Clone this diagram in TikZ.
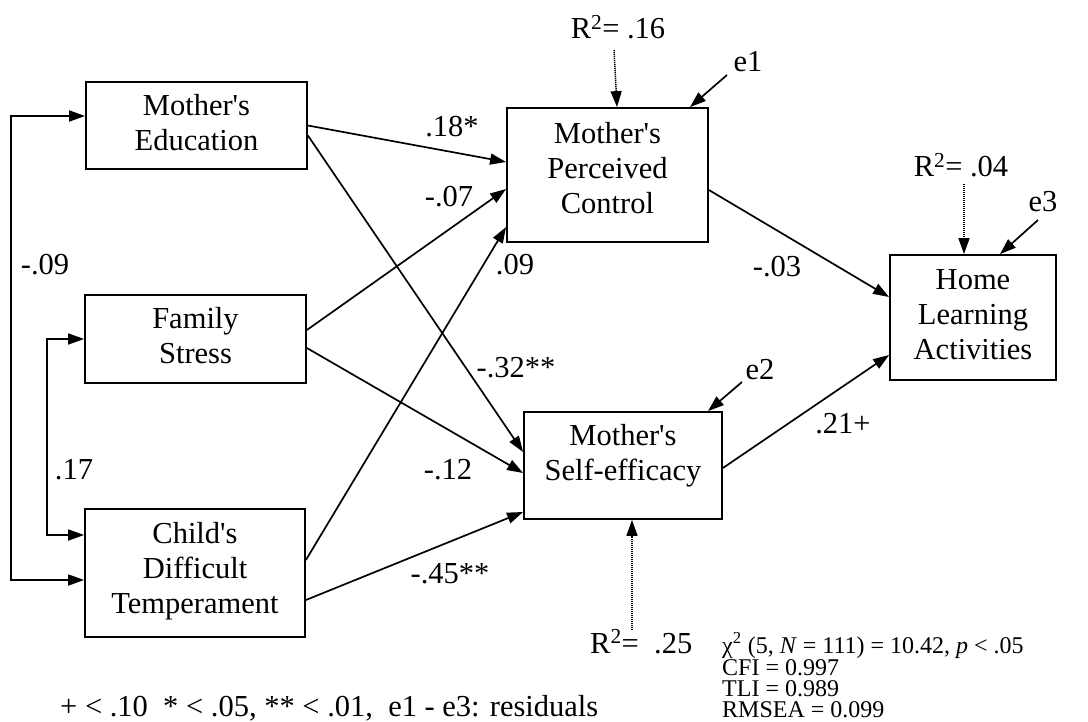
\documentclass[tikz,border=0pt]{standalone}
\usepackage{fontspec}
\setmainfont{Liberation Serif}
\usetikzlibrary{arrows.meta,calc}
\newcommand\ap{\textquotesingle}
\begin{document}
\begin{tikzpicture}[x=1pt,y=-1pt,
  font=\fontsize{30.5}{35}\selectfont,
  box/.style={draw,line width=1.8pt,inner sep=0pt},
  btext/.style={align=center,inner sep=0pt},
  arr/.style={line width=1.7pt,-{Triangle[length=16pt,width=11pt]}},
  dbl/.style={line width=1.7pt,{Triangle[length=16pt,width=11pt]}-{Triangle[length=16pt,width=11pt]}},
  dotarr/.style={line width=1.5pt,dash pattern=on 1.2pt off 0.8pt,-{Triangle[length=16pt,width=11pt]}},
  lab/.style={inner sep=0pt},
  stat/.style={inner sep=0pt,anchor=base west,font=\fontsize{24}{28}\selectfont}]
\useasboundingbox[fill=white] (0,0) rectangle (1088,721);
% boxes
\node[box,minimum width=221pt,minimum height=87pt,label={[btext,yshift=3pt]center:Mother\ap s\\Education}] (me) at (196.5,125.5) {};
\node[box,minimum width=221pt,minimum height=88pt,label={[btext,yshift=3.5pt]center:Family\\Stress}] (fs) at (195.5,339) {};
\node[box,minimum width=220pt,minimum height=128pt,label={[btext,yshift=2pt]center:Child\ap s\\Difficult\\Temperament}] (cdt) at (195,573) {};
\node[box,minimum width=201pt,minimum height=134pt,label={[btext,yshift=7pt]center:Mother\ap s\\Perceived\\Control}] (mpc) at (607.5,175) {};
\node[box,minimum width=198pt,minimum height=107pt,label={[btext,yshift=10pt]center:Mother\ap s\\Self-efficacy}] (mse) at (623,465.5) {};
\node[box,minimum width=166pt,minimum height=125pt,label={[btext,yshift=2.5pt]center:Home\\Learning\\Activities}] (hla) at (973,317.5) {};
% paths
\draw[arr] (me.east) -- ([yshift=13pt]mpc.west);
\draw[arr] ([yshift=-10pt]me.east) -- ([yshift=13.5pt]mse.west);
\draw[arr] ([yshift=9pt]fs.east) -- ([yshift=-14pt]mpc.west);
\draw[arr] ([yshift=-9pt]fs.east) -- ([yshift=-7.5pt]mse.west);
\draw[arr] ([yshift=13pt]cdt.east) -- ([yshift=-52pt]mpc.west);
\draw[arr] ([yshift=-27pt]cdt.east) -- ([yshift=-46.5pt]mse.west);
\draw[arr] ([yshift=-15pt]mpc.east) -- ([yshift=20.5pt]hla.west);
\draw[arr] ([yshift=-2.5pt]mse.east) -- ([yshift=-37.5pt]hla.west);
% correlations
\draw[dbl] ([yshift=9.5pt]me.west) -- ++(-74,0) |- ([yshift=-7pt]cdt.west);
\draw[dbl] (fs.west) -- ++(-37,0) |- ([yshift=38pt]cdt.west);
% path labels
\node[lab] (l1) at (452,127) {.18*};
\node[lab] (l2) at (449,197) {-.07};
\node[lab] (l3) at (515,265) {.09};
\node[lab] (l4) at (516,368) {-.32**};
\node[lab] (l5) at (448,470) {-.12};
\node[lab] (l6) at (450,574) {-.45**};
\node[lab] (l7) at (777,267) {-.03};
\node[lab] (l8) at (843,424) {.21+};
\node[lab] (l9) at (45,265) {-.09};
\node[lab] (l10) at (74,470) {.17};
% R squared
\node[lab] (r1) at (618,27) {R\textsuperscript{2}= .16};
\node[lab] (r3) at (961,165) {R\textsuperscript{2}= .04};
\node[lab,anchor=base west] (r2) at (590,653) {R\textsuperscript{2}=\ \ .25};
\coordinate (r2top) at ([xshift=9pt,yshift=-110pt]mse.south);
\draw[dotarr] ([xshift=-4pt,yshift=-11pt]r1.south) -- ([xshift=9.5pt]mpc.north);
\draw[dotarr] ([xshift=3pt,yshift=-7pt]r3.south) -- ([xshift=-9pt]hla.north);
\draw[dotarr] (r2top) -- ([xshift=9pt]mse.south);
% residuals
\node[lab] (e1) at (748,62) {e1};
\node[lab] (e2) at (760,370) {e2};
\node[lab] (e3) at (1043,202) {e3};
\draw[arr] ([xshift=-21pt,yshift=-13pt]e1.center) -- ([xshift=82.5pt]mpc.north);
\draw[arr] ([xshift=-18pt,yshift=-12pt]e2.center) -- ([xshift=85pt]mse.north);
\draw[arr] ([xshift=-5pt,yshift=-18pt]e3.center) -- ([xshift=27pt]hla.north);
% stats
\node[stat] (s1) at (722,653) {χ\textsuperscript{2} (5, \textit{N} = 111) = 10.42, \textit{p} < .05};
\node[stat] (s2) at (722,675) {CFI = 0.997};
\node[stat] (s3) at (722,696) {TLI = 0.989};
\node[stat] (s4) at (722,717) {RMSEA = 0.099};
\node[lab,anchor=base west] (fn) at (60,716) {+ < .10\ \ * < .05, ** < .01,\ \ e1 - e3: residuals};
\end{tikzpicture}
\end{document}
